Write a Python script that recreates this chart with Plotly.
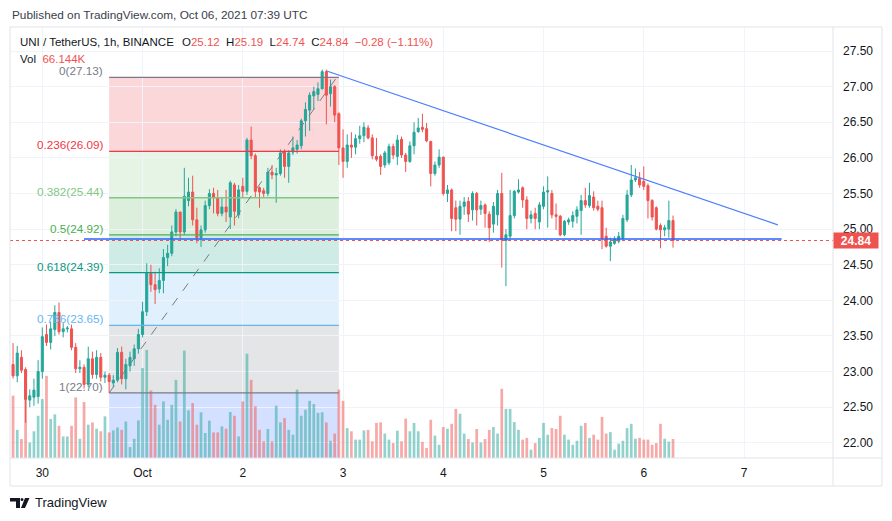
import pandas as pd
import plotly.graph_objects as go

# hourly candles, Sep 29 17:00 .. Oct 6 07:00 (UTC)
times = pd.date_range("2021-09-29 17:00", periods=159, freq="h")

opens = [
    23.10, 22.94, 23.20, 23.03, 22.60, 22.64, 22.65, 23.00, 23.52, 23.41,
    23.59, 23.83, 23.56, 23.60, 23.60, 23.34, 23.04, 23.06, 22.82, 23.18,
    22.96, 23.20, 22.92, 22.95, 22.84, 22.88, 23.27, 22.90, 23.08, 23.18,
    23.32, 23.52, 23.84, 24.38, 24.22, 24.16, 24.28, 24.60, 24.66, 24.96,
    25.24, 24.96, 25.40, 25.52, 25.13, 24.88, 24.99, 25.33, 25.50, 25.44,
    25.22, 25.31, 25.17, 25.62, 25.20, 25.60, 25.53, 26.25, 26.03, 25.58,
    25.54, 25.50, 25.80, 25.76, 25.78, 26.09, 25.88, 26.08, 26.12, 26.17,
    26.52, 26.67, 26.87, 26.89, 26.97, 27.21, 26.90, 27.00, 26.62, 26.14,
    25.95, 26.18, 26.15, 26.27, 26.31, 26.42, 26.28, 26.02, 26.02, 25.90,
    25.93, 26.16, 26.02, 26.26, 26.04, 25.95, 26.17, 26.37, 26.43, 26.41,
    26.23, 25.78, 25.90, 26.01, 25.50, 25.55, 25.30, 25.14, 25.32, 25.39,
    25.27, 25.50, 25.28, 25.34, 25.21, 25.07, 25.20, 25.50, 24.84, 24.90,
    25.19, 25.52, 25.58, 25.41, 25.15, 25.22, 25.10, 25.32, 25.52, 25.50,
    25.20, 25.18, 24.92, 25.10, 25.11, 25.18, 25.26, 25.40, 25.33, 25.45,
    25.32, 25.30, 24.90, 24.76, 24.80, 24.83, 24.87, 25.13, 25.48, 25.69,
    25.71, 25.67, 25.61, 25.40, 25.30, 25.05, 24.99, 25.00, 25.12,
]
highs = [
    23.40, 23.36, 23.30, 23.06, 22.75, 22.90, 23.16, 23.62, 23.66, 23.70,
    23.93, 23.97, 23.68, 23.64, 23.66, 23.40, 23.16, 23.10, 23.35, 23.28,
    23.30, 23.26, 23.00, 22.98, 22.95, 23.33, 23.35, 23.18, 23.28, 23.38,
    23.60, 23.98, 24.52, 24.50, 24.40, 24.45, 24.72, 24.78, 25.05, 25.28,
    25.24, 25.86, 25.72, 25.75, 25.30, 25.05, 25.40, 25.56, 25.58, 25.55,
    25.45, 25.55, 25.68, 25.65, 25.62, 25.72, 26.28, 26.44, 26.06, 25.60,
    25.58, 25.86, 25.90, 25.86, 26.12, 26.12, 26.11, 26.30, 26.25, 26.55,
    26.78, 26.92, 27.00, 27.06, 27.24, 27.24, 27.10, 27.02, 26.64, 26.40,
    26.33, 26.36, 26.33, 26.45, 26.50, 26.46, 26.33, 26.28, 26.05, 26.10,
    26.20, 26.20, 26.32, 26.30, 26.07, 26.23, 26.50, 26.56, 26.62, 26.49,
    26.24, 25.95, 26.12, 26.02, 25.62, 25.57, 25.40, 25.40, 25.45, 25.45,
    25.53, 25.52, 25.40, 25.36, 25.25, 25.38, 25.55, 25.79, 25.00, 25.55,
    25.55, 25.70, 25.60, 25.46, 25.26, 25.30, 25.38, 25.60, 25.74, 25.55,
    25.36, 25.20, 25.13, 25.16, 25.25, 25.32, 25.48, 25.58, 25.65, 25.53,
    25.40, 25.40, 25.02, 24.88, 24.90, 24.96, 25.20, 25.55, 25.90, 25.85,
    25.80, 25.88, 25.64, 25.42, 25.32, 25.08, 25.06, 25.40, 25.19,
]
lows = [
    22.90, 22.85, 22.98, 22.28, 22.50, 22.52, 22.55, 22.90, 23.36, 23.31,
    23.50, 23.52, 23.48, 23.55, 23.30, 22.98, 22.98, 22.76, 22.78, 22.90,
    22.90, 22.86, 22.84, 22.70, 22.78, 22.85, 22.82, 22.75, 23.00, 23.08,
    23.25, 23.48, 23.78, 24.12, 23.95, 24.10, 24.10, 24.48, 24.62, 24.90,
    24.86, 24.92, 25.32, 25.05, 24.80, 24.75, 24.95, 25.28, 25.22, 25.18,
    25.18, 25.10, 25.00, 25.05, 25.15, 25.45, 25.48, 25.98, 25.45, 25.30,
    25.44, 25.46, 25.70, 25.37, 25.75, 25.72, 25.65, 26.04, 26.06, 26.12,
    26.30, 26.38, 26.68, 26.80, 26.96, 26.47, 26.72, 26.50, 25.90, 25.72,
    25.86, 26.00, 26.05, 26.20, 26.22, 26.26, 25.98, 25.95, 25.76, 25.86,
    25.90, 25.98, 25.90, 26.00, 25.80, 25.93, 26.05, 26.35, 26.36, 26.22,
    25.60, 25.75, 25.86, 25.47, 25.38, 24.97, 24.97, 24.92, 25.20, 25.10,
    25.12, 25.05, 25.20, 25.02, 24.82, 24.95, 25.05, 24.46, 24.20, 24.85,
    25.15, 25.50, 25.30, 25.00, 25.08, 25.00, 25.00, 25.28, 25.02, 25.15,
    24.99, 24.90, 24.90, 25.06, 25.02, 25.08, 24.92, 25.30, 25.30, 25.26,
    25.25, 24.72, 24.74, 24.55, 24.78, 24.80, 24.85, 25.10, 25.45, 25.66,
    25.58, 25.55, 25.15, 25.12, 24.98, 24.73, 24.90, 24.88, 24.74,
]
closes = [
    22.94, 23.26, 23.02, 22.61, 22.66, 22.74, 23.00, 23.49, 23.41, 23.60,
    23.83, 23.56, 23.60, 23.61, 23.34, 23.04, 23.06, 22.82, 23.18, 22.96,
    23.20, 22.92, 22.95, 22.86, 22.88, 23.27, 22.90, 23.10, 23.20, 23.32,
    23.52, 23.84, 24.38, 24.22, 24.15, 24.28, 24.60, 24.66, 24.96, 25.24,
    24.96, 25.46, 25.52, 25.13, 24.88, 24.99, 25.33, 25.50, 25.44, 25.22,
    25.31, 25.24, 25.65, 25.25, 25.55, 25.53, 26.25, 26.03, 25.53, 25.52,
    25.50, 25.80, 25.76, 25.78, 26.07, 25.88, 26.07, 26.14, 26.18, 26.52,
    26.68, 26.88, 26.93, 26.97, 27.21, 26.88, 27.00, 26.60, 26.14, 25.95,
    26.18, 26.15, 26.27, 26.31, 26.43, 26.28, 26.03, 25.98, 25.88, 26.07,
    26.16, 26.04, 26.25, 26.04, 25.95, 26.17, 26.36, 26.42, 26.40, 26.24,
    25.78, 25.90, 26.01, 25.50, 25.55, 25.15, 25.14, 25.32, 25.38, 25.21,
    25.50, 25.27, 25.33, 25.22, 25.02, 25.32, 25.50, 24.85, 24.92, 25.19,
    25.53, 25.55, 25.41, 25.15, 25.20, 25.15, 25.34, 25.52, 25.54, 25.20,
    25.18, 24.92, 25.11, 25.13, 25.19, 25.27, 25.40, 25.34, 25.47, 25.30,
    25.28, 24.87, 24.76, 24.82, 24.86, 24.90, 25.15, 25.48, 25.69, 25.72,
    25.62, 25.60, 25.40, 25.17, 25.00, 24.99, 25.02, 25.12, 24.84,
]
# volume in thousands of UNI
volume_k = [
    217, 98, 66, 307, 54, 93, 147, 205, 286, 136,
    152, 112, 75, 75, 112, 211, 67, 195, 116, 124,
    102, 93, 145, 89, 96, 106, 98, 127, 38, 67,
    131, 313, 376, 235, 185, 116, 197, 133, 185, 272,
    127, 374, 166, 191, 116, 159, 87, 130, 89, 89,
    110, 102, 160, 147, 75, 197, 363, 272, 180, 98,
    58, 101, 58, 182, 124, 139, 98, 81, 238, 147,
    168, 199, 188, 157, 159, 124, 60, 85, 238, 199,
    104, 93, 64, 64, 96, 98, 58, 122, 124, 85,
    64, 52, 95, 58, 137, 93, 122, 93, 56, 35,
    133, 78, 46, 108, 102, 119, 171, 154, 85, 66,
    54, 101, 54, 66, 98, 108, 85, 241, 171, 171,
    125, 98, 64, 70, 29, 52, 70, 122, 81, 104,
    101, 147, 81, 64, 46, 60, 112, 122, 70, 81,
    64, 143, 85, 90, 29, 50, 60, 104, 119, 67,
    70, 64, 64, 46, 52, 119, 67, 57, 66.144,
]

# fibonacci retracement drawn on the chart
fib_ratios = ["0", "0.236", "0.382", "0.5", "0.618", "0.786", "1"]
fib_prices = [27.13, 26.09, 25.44, 24.92, 24.39, 23.65, 22.70]
fib_line_colors = ["#787b86", "#f23645", "#81c784", "#4caf50", "#089981", "#64b5f6", "#787b86"]
fib_fill_colors = ["rgba(242,54,69,0.2)", "rgba(129,199,132,0.2)", "rgba(76,175,80,0.2)",
                   "rgba(8,153,129,0.2)", "rgba(100,181,246,0.2)", "rgba(120,123,134,0.2)",
                   "rgba(41,98,255,0.2)"]
fib_start = "2021-09-30 16:00"
fib_end = "2021-10-02 23:00"

day_ticks = ["2021-09-30", "2021-10-01", "2021-10-02", "2021-10-03",
             "2021-10-04", "2021-10-05", "2021-10-06", "2021-10-07"]
day_labels = ["30", "Oct", "2", "3", "4", "5", "6", "7"]

last_close = 24.84
UP = "#26a69a"
DOWN = "#ef5350"
TXT = "#131722"
FONT = "Liberation Sans, Arial, sans-serif"

assert len(opens) == len(highs) == len(lows) == len(closes) == len(volume_k) == len(times)

# page puts the figure 8px in from the top-left corner, so work in screen pixels
OFF = 8
W, H = 892, 521
X0, X1, Y0, Y1 = 10, 833, 27, 458   # plot area on screen
L, T = X0 - OFF, Y0 - OFF
R, B = W - (X1 - OFF), H - (Y1 - OFF)
PW, PH = X1 - X0, Y1 - Y0


def xp(px):
    return (px - X0) / PW


def yp(py):
    return (Y1 - py) / PH


vol_colors = ["rgba(38,166,154,0.5)" if c >= o else "rgba(239,83,80,0.5)"
              for o, c in zip(opens, closes)]

fig = go.Figure()
fig.add_trace(go.Bar(x=times, y=volume_k, marker_color=vol_colors,
                     marker_line_width=0, yaxis="y", hoverinfo="skip"))
fig.add_trace(go.Candlestick(
    x=times, open=opens, high=highs, low=lows, close=closes, yaxis="y2",
    increasing=dict(line=dict(color=UP, width=1), fillcolor=UP),
    decreasing=dict(line=dict(color=DOWN, width=1), fillcolor=DOWN),
    whiskerwidth=0,
))

shapes = []
# fib bands
bands = fib_prices + [20.0]
for i in range(len(fib_prices)):
    shapes.append(dict(type="rect", xref="x", yref="y2", x0=fib_start, x1=fib_end,
                       y0=bands[i], y1=bands[i + 1], fillcolor=fib_fill_colors[i],
                       line_width=0, layer="below"))
for p, c in zip(fib_prices, fib_line_colors):
    shapes.append(dict(type="line", xref="x", yref="y2", x0=fib_start, x1=fib_end,
                       y0=p, y1=p, line=dict(color=c, width=1.3)))
# fib trend (dashed)
shapes.append(dict(type="line", xref="x", yref="y2", x0=fib_start, y0=fib_prices[-1],
                   x1="2021-10-02 22:30", y1=fib_prices[0],
                   line=dict(color="#787b86", width=1, dash="dash")))
# horizontal support line
shapes.append(dict(type="line", xref="x", yref="y2", x0="2021-09-30 10:00", x1="2021-10-07 09:00",
                   y0=24.86, y1=24.86, line=dict(color="#2962ff", width=1.5)))
# descending trendline
shapes.append(dict(type="line", xref="x", yref="y2", x0="2021-10-02 20:05", y0=27.22,
                   x1="2021-10-07 08:05", y1=25.06, line=dict(color="#4d7dff", width=1.2)))
# last price dotted line
shapes.append(dict(type="line", xref="paper", yref="y2", x0=0, x1=1, y0=last_close, y1=last_close,
                   line=dict(color=DOWN, width=1, dash="dot")))

# frame
frame = "#e0e3eb"
for x0, y0, x1, y1 in [(10, 27, 882, 27), (10, 27, 10, 486), (882, 27, 882, 486),
                       (10, 486, 882, 486), (833, 27, 833, 486), (10, 458, 882, 458)]:
    shapes.append(dict(type="line", xref="paper", yref="paper", x0=xp(x0), y0=yp(y0),
                       x1=xp(x1), y1=yp(y1), line=dict(color=frame, width=1)))

# TradingView logo glyph
shapes.append(dict(type="path", xref="paper", yref="paper", fillcolor="#131722", line_width=0,
                   path="M {} {} L {} {} L {} {} L {} {} L {} {} L {} {} Z".format(
                       xp(10), yp(498), xp(20), yp(498), xp(20), yp(508),
                       xp(16), yp(508), xp(16), yp(501.5), xp(10), yp(501.5))))
shapes.append(dict(type="circle", xref="paper", yref="paper", fillcolor="#131722", line_width=0,
                   x0=xp(20.5), y0=yp(498), x1=xp(23.5), y1=yp(501)))
shapes.append(dict(type="path", xref="paper", yref="paper", fillcolor="#131722", line_width=0,
                   path="M {} {} L {} {} L {} {} L {} {} Z".format(
                       xp(25), yp(498), xp(29.5), yp(498), xp(25), yp(508), xp(21), yp(508))))

annotations = []
for r, p, c in zip(fib_ratios, fib_prices, fib_line_colors):
    annotations.append(dict(xref="x", yref="y2", x=fib_start, y=p, xanchor="right", yanchor="bottom",
                            xshift=-4, yshift=-2, showarrow=False,
                            text="{}({:.2f})".format(r, p), font=dict(size=11.7, color=c, family=FONT)))

annotations.append(dict(xref="paper", yref="paper", x=xp(10), y=yp(15), xanchor="left", yanchor="middle",
                        showarrow=False, font=dict(size=11.8, color="#3a3e4a", family=FONT),
                        text="Published on TradingView.com, Oct 06, 2021 07:39 UTC"))
annotations.append(dict(xref="paper", yref="paper", x=xp(18), y=yp(42), xanchor="left", yanchor="middle",
                        showarrow=False, font=dict(size=11.5, color=TXT, family=FONT),
                        text="UNI / TetherUS, 1h, BINANCE"))
red = "<span style='color:#ef5350'>{}</span>"
annotations.append(dict(xref="paper", yref="paper", x=xp(180), y=yp(42), xanchor="left", yanchor="middle",
                        showarrow=False, font=dict(size=11.5, color=TXT, family=FONT),
                        text="O" + red.format("25.12") + "  H" + red.format("25.19") + "  L" + red.format("24.74")
                        + "  C" + red.format("24.84") + "  " + red.format("\u22120.28 (\u22121.11%)")))
annotations.append(dict(xref="paper", yref="paper", x=xp(18), y=yp(59), xanchor="left", yanchor="middle",
                        showarrow=False, font=dict(size=11.5, color=TXT, family=FONT),
                        text="Vol  " + red.format("66.144K")))
annotations.append(dict(xref="paper", yref="y2", x=1, y=last_close, xanchor="left", yanchor="middle",
                        showarrow=False, bgcolor=DOWN, width=44, height=15, borderpad=0,
                        font=dict(size=12, color="white", family=FONT),
                        text="<b>{:.2f}</b>".format(last_close)))
annotations.append(dict(xref="paper", yref="paper", x=xp(33), y=yp(503), xanchor="left", yanchor="middle",
                        showarrow=False, font=dict(size=13, color=TXT, family=FONT), text="TradingView"))

grid = "#f0f3fa"
fig.update_layout(
    width=W, height=H, margin=dict(l=L, r=R, t=T, b=B),
    paper_bgcolor="white", plot_bgcolor="white", showlegend=False,
    bargap=0.35, shapes=shapes, annotations=annotations,
    font=dict(family=FONT, color=TXT, size=12),
    xaxis=dict(type="date", range=["2021-09-29 16:16", "2021-10-07 21:18"],
               tickvals=day_ticks, ticktext=day_labels, showgrid=True, gridcolor=grid,
               zeroline=False, showline=False, ticks="", ticklabelstandoff=6,
               tickfont=dict(size=12, color=TXT), rangeslider=dict(visible=False)),
    yaxis=dict(range=[0, 1500], visible=False, showgrid=False, zeroline=False),
    yaxis2=dict(overlaying="y", side="right", range=[21.787, 27.837], tick0=22, dtick=0.5,
                tickformat=".2f", showgrid=True, gridcolor=grid, zeroline=False, showline=False,
                ticks="", ticklabelstandoff=9, tickfont=dict(size=12, color=TXT)),
)

fig.write_html("out.html")
